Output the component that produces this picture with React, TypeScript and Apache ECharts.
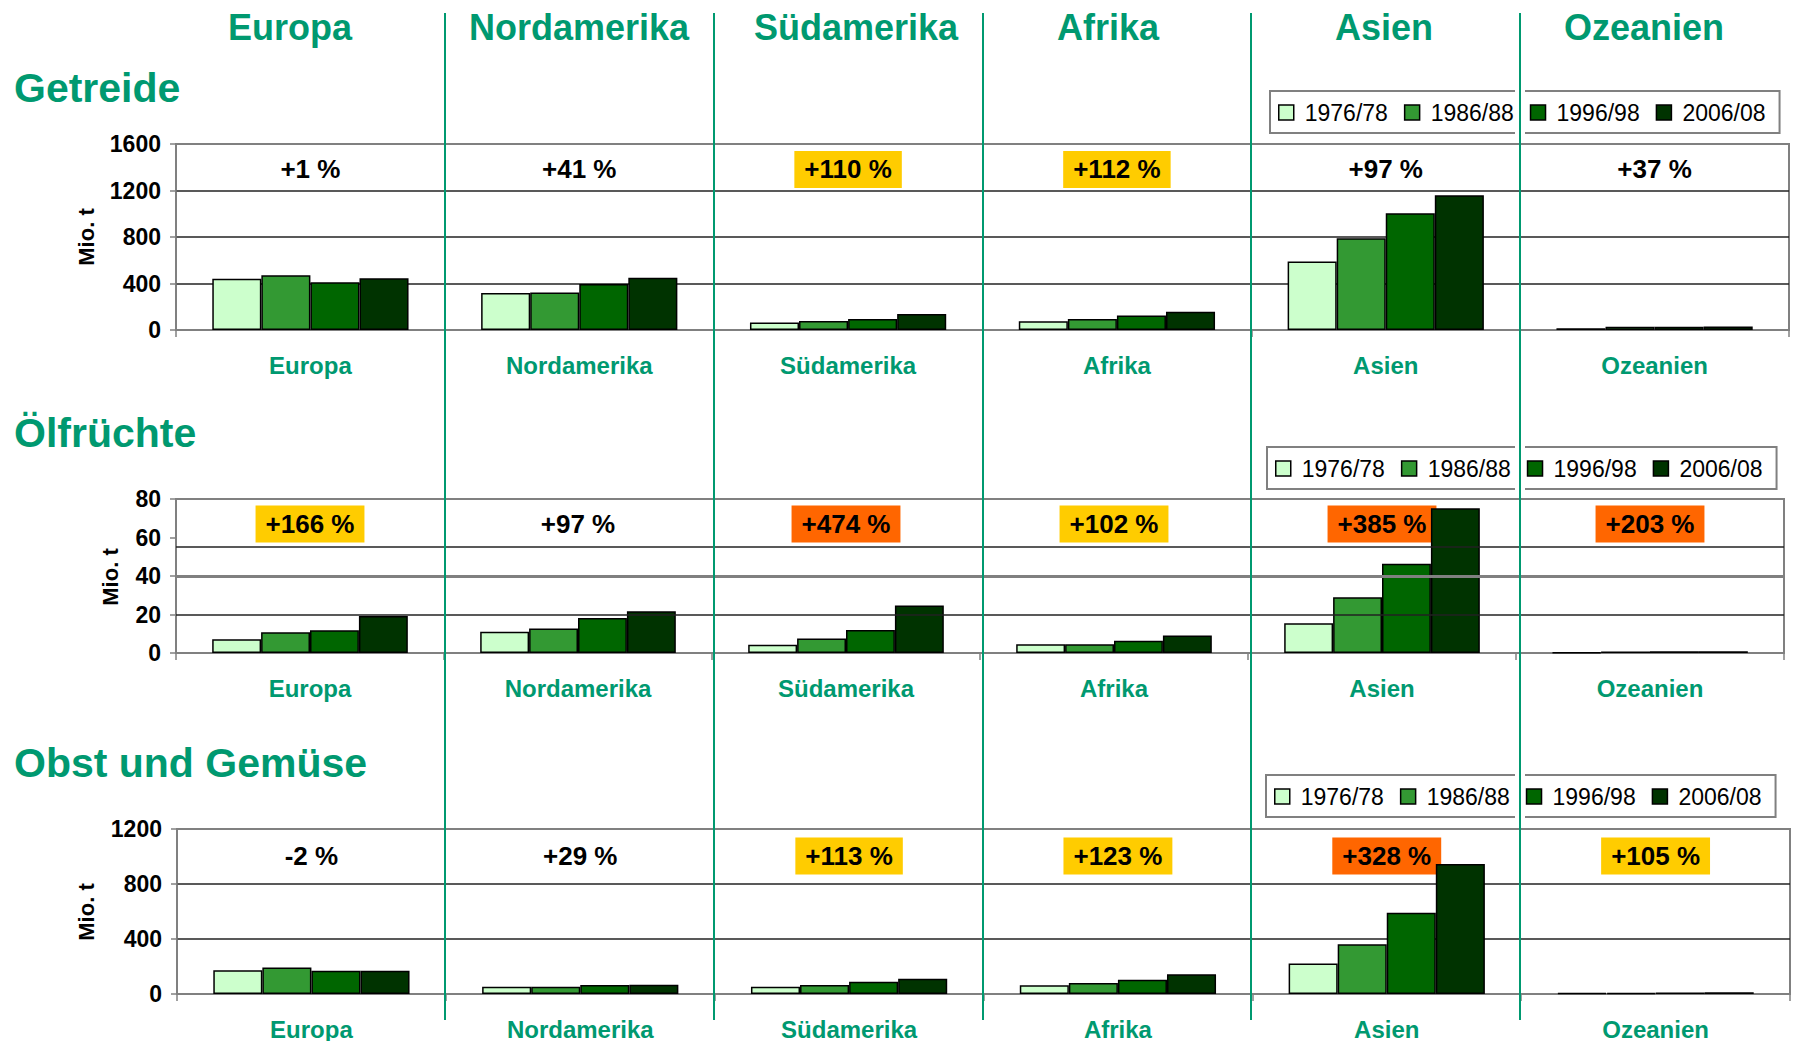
import React, { useEffect, useRef } from "react";
import * as echarts from "echarts";

const FONT = '"Liberation Sans", Arial, sans-serif';
const GREEN = "#009970";

const regions = ["Europa", "Nordamerika", "Südamerika", "Afrika", "Asien", "Ozeanien"];
const periods = ["1976/78", "1986/88", "1996/98", "2006/08"];
const periodColors = ["#CCFFCC", "#339933", "#006600", "#003300"];

// Getreide (Mio. t), one array per period, regions in order
const getreide7678 = [440, 318, 65, 75, 590, 15];
const getreide8688 = [470, 322, 78, 95, 790, 28];
const getreide9698 = [410, 395, 95, 125, 1005, 29];
const getreide0608 = [445, 450, 137, 158, 1160, 30];
const getreidePct = ["+1 %", "+41 %", "+110 %", "+112 %", "+97 %", "+37 %"];
const getreideMark = [0, 0, 1, 1, 0, 0];

// Ölfrüchte (Mio. t)
const oel7678 = [7.2, 11, 4.3, 4.5, 15.5, 0.3];
const oel8688 = [10.8, 12.7, 7.5, 4.6, 29, 0.8];
const oel9698 = [11.8, 18.2, 11.9, 6.4, 46.3, 0.9];
const oel0608 = [19.2, 21.7, 24.7, 9.1, 75.2, 0.9];
const oelPct = ["+166 %", "+97 %", "+474 %", "+102 %", "+385 %", "+203 %"];
const oelMark = [1, 0, 2, 1, 2, 2];

// Obst und Gemüse (Mio. t)
const obst7678 = [172, 52, 52, 64, 221, 6];
const obst8688 = [192, 53, 65, 80, 361, 9];
const obst9698 = [170, 65, 90, 104, 591, 11];
const obst0608 = [169, 67, 111, 143, 946, 12.3];
const obstPct = ["-2 %", "+29 %", "+113 %", "+123 %", "+328 %", "+105 %"];
const obstMark = [0, 0, 1, 1, 2, 1];

const markColors = [null, "#FFCC00", "#FF6600"];

const headerX = [290, 579, 856, 1108, 1384, 1644];

const panels = [
  {
    title: "Getreide", titleY: 88,
    grid: { left: 176, right: 10, top: 144, height: 186 },
    max: 1600, interval: 400, pctLevel: 1381,
    series: [getreide7678, getreide8688, getreide9698, getreide0608],
    pct: getreidePct, mark: getreideMark,
    legendLeft: 1270, legendTop: 91,
    nameX: 86, nameY: 237,
    splitColors: ["#808080", "#222222", "#222222", "#222222", "#808080"],
    extraLines: [] as { v: number; c: string; w: number }[],
  },
  {
    title: "Ölfrüchte", titleY: 433,
    grid: { left: 176, right: 15, top: 499, height: 154 },
    max: 80, interval: 20, pctLevel: 67,
    series: [oel7678, oel8688, oel9698, oel0608],
    pct: oelPct, mark: oelMark,
    legendLeft: 1267, legendTop: 447,
    nameX: 110, nameY: 577,
    splitColors: null as any,
    extraLines: [
      { v: 20, c: "#222222", w: 1.5 },
      { v: 40, c: "#808080", w: 3 },
      { v: 55, c: "#222222", w: 1.5 },
    ],
  },
  {
    title: "Obst und Gemüse", titleY: 763,
    grid: { left: 177, right: 9, top: 829, height: 165 },
    max: 1200, interval: 400, pctLevel: 1004,
    series: [obst7678, obst8688, obst9698, obst0608],
    pct: obstPct, mark: obstMark,
    legendLeft: 1266, legendTop: 775,
    nameX: 86, nameY: 912,
    splitColors: ["#808080", "#222222", "#222222", "#808080"],
    extraLines: [] as { v: number; c: string; w: number }[],
  },
];

export default function App() {
  const ref = useRef<HTMLDivElement>(null);

  useEffect(() => {
    if (!ref.current) return;
    const chart = echarts.init(ref.current, null, { renderer: "svg" });
    const W = 1799;

    const grids: any[] = [];
    const xAxes: any[] = [];
    const yAxes: any[] = [];
    const series: any[] = [];
    const legends: any[] = [];
    const graphics: any[] = [];

    panels.forEach((p, pi) => {
      grids.push({
        left: p.grid.left, right: p.grid.right, top: p.grid.top, height: p.grid.height,
        show: true, borderColor: "#808080", borderWidth: 2, backgroundColor: "transparent",
        containLabel: false,
      });
      xAxes.push({
        type: "category", gridIndex: pi, data: regions,
        axisLine: { show: true, lineStyle: { color: "#808080", width: 2 } },
        axisTick: { show: true, length: 7, interval: 0, lineStyle: { color: "#808080", width: 1.5 } },
        axisLabel: { color: GREEN, fontWeight: "bold", fontSize: 24, fontFamily: FONT, margin: 23, interval: 0 },
        splitLine: { show: false },
      });
      yAxes.push({
        type: "value", gridIndex: pi, min: 0, max: p.max, interval: p.interval,
        axisLine: { show: true, lineStyle: { color: "#808080", width: 1.5 } },
        axisTick: { show: true, length: 6, lineStyle: { color: "#808080", width: 1.5 } },
        axisLabel: {
          color: "#000", fontWeight: "bold", fontSize: 23, fontFamily: FONT, margin: 15,
          formatter: (v: number) => String(v),
        },
        splitLine: p.splitColors
          ? { show: true, lineStyle: { color: p.splitColors, width: 1.5 } }
          : { show: false },
      });
      p.series.forEach((vals, si) => {
        series.push({
          type: "bar", name: periods[si], xAxisIndex: pi, yAxisIndex: pi,
          data: vals, barGap: "0%", barCategoryGap: "27%", z: 3,
          itemStyle: { color: periodColors[si], borderColor: "#000", borderWidth: 1.5 },
          silent: true,
        });
      });
      series.push({
        type: "scatter", name: "pct" + pi, xAxisIndex: pi, yAxisIndex: pi, z: 1,
        symbolSize: 1, itemStyle: { color: "rgba(0,0,0,0)", opacity: 1 }, silent: true,
        data: regions.map((r, i) => ({
          value: [r, p.pctLevel],
          label: markColors[p.mark[i]]
            ? { backgroundColor: markColors[p.mark[i]] as string }
            : {},
        })),
        label: {
          show: true, position: "inside", opacity: 1,
          formatter: (d: any) => p.pct[d.dataIndex],
          color: "#000", fontWeight: "bold", fontSize: 26, fontFamily: FONT,
          padding: [6, 10, 5, 10],
        },
        markLine: p.extraLines.length
          ? {
              silent: true, symbol: "none", label: { show: false },
              data: p.extraLines.map((l) => ({ yAxis: l.v, lineStyle: { color: l.c, width: l.w, type: "solid", opacity: 1 } })),
            }
          : undefined,
      });
      legends.push({
        left: p.legendLeft, top: p.legendTop, orient: "horizontal",
        data: periods, selectedMode: false,
        itemWidth: 15, itemHeight: 15, itemGap: 16, icon: "rect",
        itemStyle: { borderColor: "#000", borderWidth: 1.5 },
        textStyle: { fontSize: 23, color: "#000", fontFamily: FONT, padding: [0, 0, 0, 6] },
        padding: [10, 14, 9, 8],
        borderColor: "#808080", borderWidth: 2, backgroundColor: "#fff",
      });
      graphics.push({
        type: "text", x: 14, y: p.titleY, z: 20,
        style: { text: p.title, fill: GREEN, font: `bold 41px ${FONT}`, align: "left", verticalAlign: "middle" },
      });
      graphics.push({
        type: "text", x: p.nameX, y: p.nameY, rotation: Math.PI / 2, z: 20,
        style: { text: "Mio. t", fill: "#000", font: `bold 22px ${FONT}`, align: "center", verticalAlign: "middle" },
      });
    });

    regions.forEach((r, i) => {
      graphics.push({
        type: "text", x: headerX[i], y: 27, z: 20,
        style: { text: r, fill: GREEN, font: `bold 36px ${FONT}`, align: "center", verticalAlign: "middle" },
      });
    });

    const g0 = panels[0].grid;
    const catW = (W - g0.right - g0.left) / regions.length;
    for (let k = 1; k < regions.length; k++) {
      const x = Math.round(g0.left + k * catW);
      if (k === regions.length - 1) {
        panels.forEach((p) => {
          graphics.push({
            type: "rect", z: 25,
            shape: { x: x - 5, y: p.legendTop - 3, width: 10, height: 50 },
            style: { fill: "#fff" },
          });
        });
      }
      graphics.push({
        type: "line", z: 30,
        shape: { x1: x, y1: 13, x2: x, y2: 1020 },
        style: { stroke: GREEN, lineWidth: 2 },
      });
    }

    chart.setOption({
      animation: false,
      backgroundColor: "#fff",
      textStyle: { fontFamily: FONT },
      grid: grids,
      xAxis: xAxes,
      yAxis: yAxes,
      legend: legends,
      series,
      graphic: { elements: graphics },
    });

    return () => chart.dispose();
  }, []);

  return (
    <div
      ref={ref}
      style={{ position: "fixed", left: 0, top: 0, width: 1799, height: 1041, background: "#fff" }}
    />
  );
}
